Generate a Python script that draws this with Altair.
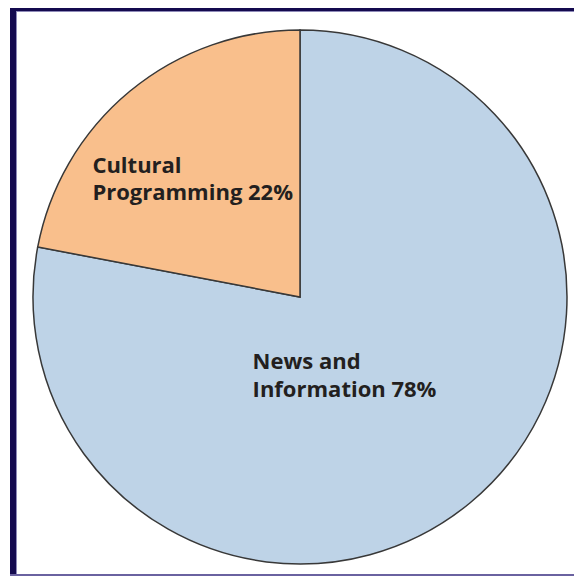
import math
import altair as alt
import pandas as pd

categories = ["News and Information", "Cultural Programming"]
shares = [78, 22]
labels = ["News and\nInformation 78%", "Cultural\nProgramming 22%"]
colors = ["#BED3E7", "#F9BF8C"]

df = pd.DataFrame({"category": categories, "share": shares, "label": labels})
df["order"] = range(len(df))
df["mid"] = df["share"].cumsum() - df["share"] / 2

W, H = 566, 568
CX, CY = 292, 289
R = 267

theta_scale = alt.Scale(domain=[0, 100], range=[0, 2 * math.pi])

base = alt.Chart(df)

arcs = base.mark_arc(radius=R, stroke="#383838", strokeWidth=1.5).encode(
    theta=alt.Theta("share:Q", stack=True, scale=theta_scale),
    order=alt.Order("order:Q"),
    color=alt.Color("category:N", scale=alt.Scale(domain=categories, range=colors), legend=None),
    x=alt.value(CX),
    y=alt.value(CY),
)

def label_layer(cat, dx, dy, lh):
    return base.transform_filter(alt.datum.category == cat).mark_text(
        radius=150, align="left", baseline="alphabetic", lineBreak="\n",
        lineHeight=lh, font="Open Sans", fontWeight="bold", fontSize=22,
        color="#231F20", dx=dx, dy=dy,
    ).encode(
        theta=alt.Theta("mid:Q", scale=theta_scale),
        text="label:N",
        x=alt.value(CX),
        y=alt.value(CY),
    )

news_txt = label_layer("News and Information", -143, -44, 28)
cult_txt = label_layer("Cultural Programming", -112, -8, 27)

frame_data = alt.Data(values=[{"k": 1}])
def frame_rect(x1, x2, y1, y2, color):
    return alt.Chart(frame_data).mark_rect(color=color).encode(
        x=alt.value(x1), x2=alt.value(x2), y=alt.value(y1), y2=alt.value(y2)
    )

frame = (
    frame_rect(2, W, 0, 3, "#140A4F")
    + frame_rect(2, 8, 0, H, "#140A4F")
    + frame_rect(8, 9, 3, H, "#8E8AB8")
    + frame_rect(9, W, 3, 4, "#8E8AB8")
    + frame_rect(2, W, H - 2, H, "#6A62A0")
)

chart = (arcs + news_txt + cult_txt + frame).properties(
    width=W, height=H, autosize=alt.AutoSizeParams(type="none"), padding=0,
    background="white",
).configure_view(stroke=None)

chart.save("out.html", embed_options={"renderer": "svg", "actions": False})
